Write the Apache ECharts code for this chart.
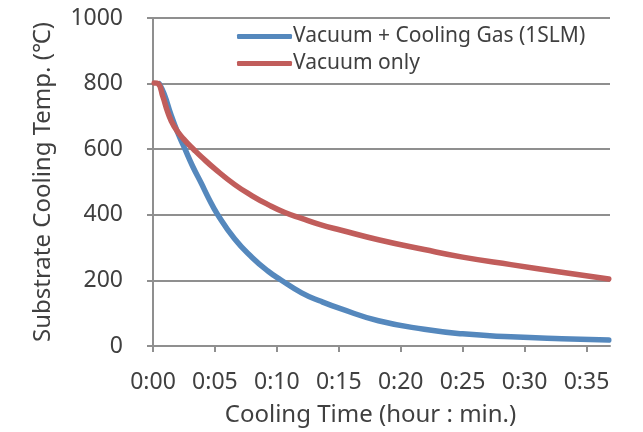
<!DOCTYPE html>
<html>
<head>
<meta charset="utf-8">
<script src="https://cdn.jsdelivr.net/npm/echarts@6/dist/echarts.min.js"></script>
<style>
html,body{margin:0;padding:0;background:#fff;}
#chart{width:643px;height:432px;}
</style>
</head>
<body>
<div id="chart"></div>
<script>
// Time in minutes
const gasTime = [0.5, 0.9, 1.45, 2.0, 2.55, 3.2, 3.9, 4.5, 5.2, 6.6, 8.0, 9.3, 10.3, 12.0, 13.5, 15.2, 18.2, 21.9, 25.0, 28.9, 33.0, 36.8];
const gasTemp = [800, 768, 705, 650, 603, 548, 496, 450, 402, 326, 270, 228, 202, 162, 137, 113, 77, 51, 37, 28, 22, 18];
const vacTime = [0.1, 0.4, 0.8, 1.2, 1.7, 2.5, 3.35, 3.9, 5.0, 6.6, 8.0, 9.3, 10.6, 12.0, 13.5, 15.2, 18.2, 21.9, 25.0, 28.9, 33.0, 36.8];
const vacTemp = [802, 800, 760, 712, 670, 630, 597, 577, 540, 492, 458, 431, 408, 389, 370, 353, 324, 294, 271, 248, 225, 204];
const xTickLabels = ['0:00', '0:05', '0:10', '0:15', '0:20', '0:25', '0:30', '0:35'];
const yTickLabels = ['0', '200', '400', '600', '800', '1000'];
const seriesNames = ['Vacuum + Cooling Gas (1SLM)', 'Vacuum only'];

const pair = (xs, ys) => xs.map((x, i) => [x, ys[i]]);
const FONT = 'Noto Sans';
const TXT = '#404040';
const GRID = '#8f8f8f';

const chart = echarts.init(document.getElementById('chart'), null, {renderer: 'canvas'});
chart.setOption({
  animation: false,
  textStyle: {fontFamily: FONT},
  grid: {left: 153, right: 33, top: 18, bottom: 85, containLabel: false},
  legend: {
    orient: 'vertical',
    left: 232, top: 21,
    itemWidth: 55, itemHeight: 5, itemGap: 6,
    icon: 'roundRect',
    textStyle: {fontFamily: FONT, fontSize: 21, color: TXT, padding: [0, 0, 0, -4]},
    data: seriesNames
  },
  xAxis: {
    type: 'value', min: 0, max: 36.9, interval: 5,
    name: 'Cooling Time (hour : min.)', nameLocation: 'middle', nameGap: 57,
    nameTextStyle: {fontFamily: FONT, fontSize: 24, color: TXT, padding: [0, 22, 0, 0]},
    axisLine: {lineStyle: {color: GRID, width: 2}},
    axisTick: {show: true, length: 6, lineStyle: {color: GRID, width: 2}},
    splitLine: {show: false},
    axisLabel: {
      fontFamily: FONT, fontSize: 23, color: TXT, margin: 25, showMaxLabel: false,
      formatter: v => (Math.abs(v % 5) < 1e-6 && v / 5 < xTickLabels.length) ? xTickLabels[Math.round(v / 5)] : ''
    }
  },
  yAxis: {
    type: 'value', min: 0, max: 1000, interval: 200,
    name: 'Substrate Cooling Temp. (℃)', nameLocation: 'middle', nameGap: 98,
    nameTextStyle: {fontFamily: FONT, fontSize: 24, color: TXT},
    axisLine: {show: true, lineStyle: {color: GRID, width: 2}},
    axisTick: {show: true, length: 6, lineStyle: {color: GRID, width: 2}},
    splitLine: {show: true, lineStyle: {color: GRID, width: 2}},
    axisLabel: {
      fontFamily: FONT, fontSize: 23, color: TXT, margin: 30,
      formatter: v => yTickLabels[Math.round(v / 200)]
    }
  },
  series: [
    {
      name: seriesNames[0], type: 'line', data: pair(gasTime, gasTemp),
      smooth: 0.5, showSymbol: false, symbol: 'none',
      lineStyle: {color: '#5588bd', width: 5.5, cap: 'round', join: 'round'},
      itemStyle: {color: '#5588bd'}
    },
    {
      name: seriesNames[1], type: 'line', data: pair(vacTime, vacTemp),
      smooth: 0.5, showSymbol: false, symbol: 'none',
      lineStyle: {color: '#c15d5b', width: 5.5, cap: 'round', join: 'round'},
      itemStyle: {color: '#c15d5b'}
    }
  ]
});
</script>
</body>
</html>
